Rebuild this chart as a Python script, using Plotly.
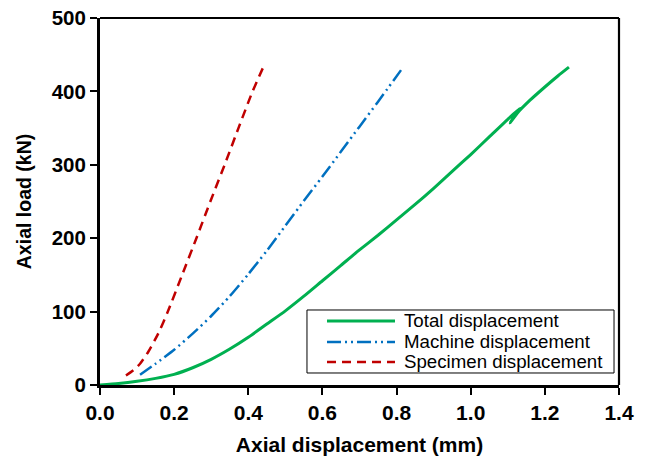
import plotly.graph_objects as go

# ---- data ----
total_x = [0, 0.05, 0.1, 0.15, 0.2, 0.25, 0.3, 0.35, 0.4, 0.45, 0.5, 0.55, 0.6, 0.65, 0.7, 0.75,
           0.8, 0.85, 0.9, 0.95, 1.0, 1.05, 1.1, 1.133, 1.12, 1.106, 1.125, 1.16, 1.2, 1.235, 1.265]
total_y = [0, 2, 5, 9, 14.5, 23.5, 35, 49, 65, 83, 101, 121, 142, 163, 184, 204,
           225, 246, 268, 291, 314, 338, 362, 377, 368, 357, 370, 388, 406, 421, 433]

machine_x = [0.108, 0.15, 0.2, 0.25, 0.3, 0.35, 0.4, 0.45, 0.5, 0.55, 0.6, 0.65, 0.7, 0.75, 0.812]
machine_y = [14, 29, 48, 70, 94, 121, 151, 183, 217, 251, 284, 318, 352, 386, 429]

spec_x = [0.07, 0.09, 0.108, 0.13, 0.157, 0.183, 0.22, 0.26, 0.30, 0.34, 0.375, 0.41, 0.443]
spec_y = [13, 20, 29, 45, 70, 100, 148, 200, 253, 305, 352, 398, 436]

series_names = ["Total displacement", "Machine displacement", "Specimen displacement"]
colors = ["#00B050", "#0070C0", "#C00000"]
dashes = ["solid", "14px,4px,2px,4px,2px,4px", "9px,6px"]
widths = [3, 2.5, 2.5]

x_ticks = [0, 0.2, 0.4, 0.6, 0.8, 1.0, 1.2, 1.4]
y_ticks = [0, 100, 200, 300, 400, 500]

FONT = "Liberation Sans, Arial, sans-serif"

fig = go.Figure()
for xs, ys, name, c, d, w in zip([total_x, machine_x, spec_x], [total_y, machine_y, spec_y],
                                 series_names, colors, dashes, widths):
    fig.add_trace(go.Scatter(x=xs, y=ys, mode="lines", name=name,
                             line=dict(color=c, dash=d, width=w, shape="spline", smoothing=0.6),
                             showlegend=False))

# ---- top / right frame (thinner than the main axes) ----
fig.add_shape(type="line", xref="paper", yref="paper", x0=0, x1=1, y0=1, y1=1,
              line=dict(color="black", width=2.2), layer="above")
fig.add_shape(type="line", xref="paper", yref="paper", x0=1, x1=1, y0=0, y1=1,
              line=dict(color="black", width=2.2), layer="above")

# ---- manual legend (box, line samples, labels) ----
box = dict(x0=0.3988, x1=0.9904, y0=0.0327, y1=0.2044)
fig.add_shape(type="rect", xref="paper", yref="paper", **box,
              line=dict(color="black", width=1), fillcolor="white", layer="above")
row_y = [0.1744, 0.1172, 0.0627]
for ry, name, c, d, w in zip(row_y, series_names, colors, dashes, widths):
    fig.add_shape(type="line", xref="paper", yref="paper", x0=0.4374, x1=0.5684, y0=ry, y1=ry,
                  line=dict(color=c, dash=d, width=w), layer="above")
    fig.add_annotation(xref="paper", yref="paper", x=0.5819, y=ry, text=name, showarrow=False,
                       xanchor="left", yanchor="middle",
                       font=dict(family=FONT, size=18.7, color="black"))

axis_common = dict(showgrid=False, zeroline=False, showline=True, linecolor="black", linewidth=3,
                   mirror=False, ticks="outside", ticklen=7, tickwidth=2, tickcolor="black",
                   automargin=False)

fig.update_xaxes(range=[0, 1.4], tickvals=x_ticks, ticktext=[f"{v:.1f}" for v in x_ticks],
                 tickfont=dict(family=FONT, size=21, color="black", weight="bold"),
                 title=dict(text="Axial displacement (mm)",
                            font=dict(family=FONT, size=21, color="black", weight="bold")),
                 **axis_common)
fig.update_yaxes(range=[0, 500], tickvals=y_ticks, ticktext=[str(v) for v in y_ticks],
                 tickfont=dict(family=FONT, size=20.5, color="black", weight="bold"),
                 title=dict(text="Axial load (kN)",
                            font=dict(family=FONT, size=19.5, color="black", weight="bold")),
                 **axis_common)

fig.update_layout(width=646, height=456, margin=dict(l=100, r=27, t=18, b=71),
                  paper_bgcolor="white", plot_bgcolor="white", showlegend=False)

fig.write_html("out.html")
